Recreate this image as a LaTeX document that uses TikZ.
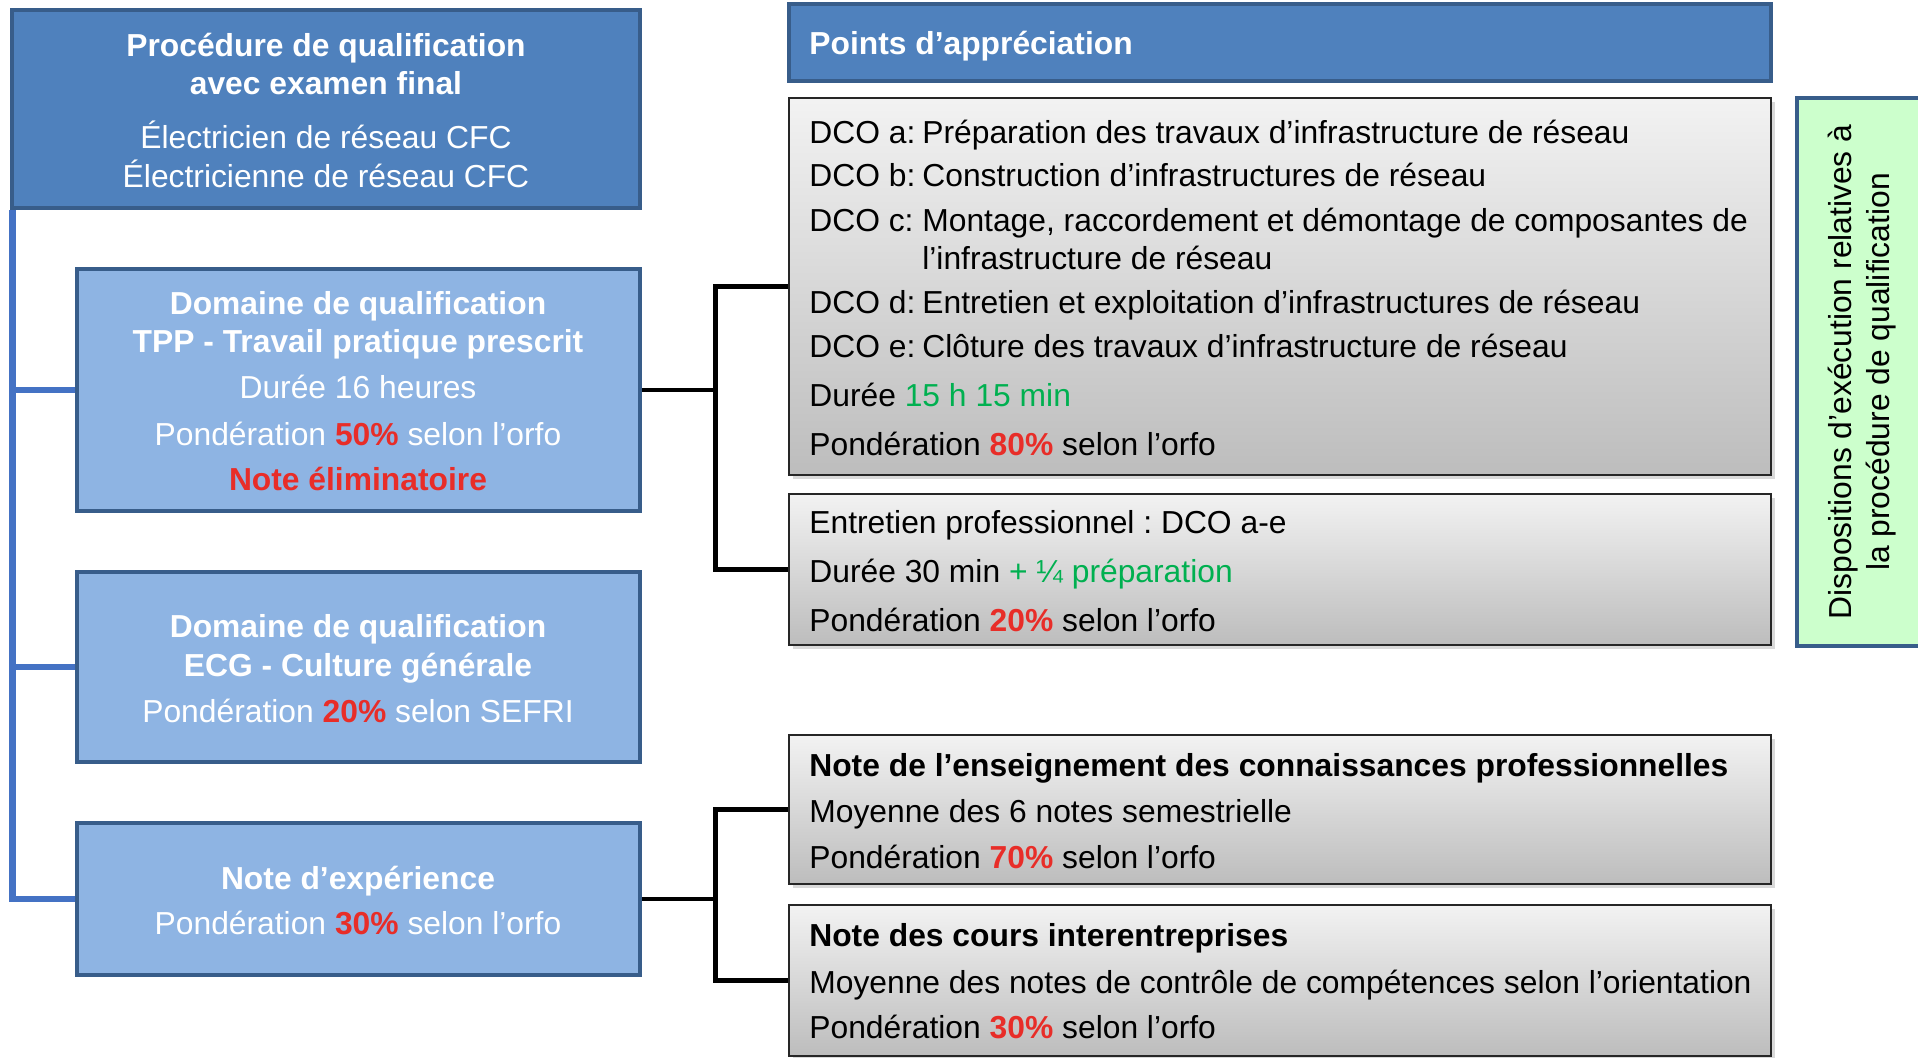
\documentclass[tikz,border=0pt]{standalone}
\usepackage{fontspec}
\setmainfont{Liberation Sans}
\usetikzlibrary{fit,shadows}
\frenchspacing

\definecolor{procblue}{RGB}{79,129,189}
\definecolor{edgeblue}{RGB}{56,93,138}
\definecolor{lightblue}{RGB}{142,180,227}
\definecolor{linkblue}{RGB}{68,114,196}
\definecolor{notered}{RGB}{232,45,40}
\definecolor{timegreen}{RGB}{0,176,80}
\definecolor{dispgreen}{RGB}{204,255,204}

\newcommand{\bodysize}{\fontsize{18.1}{21.5}\selectfont}
\newcommand{\rouge}[1]{\textcolor{notered}{\textbf{#1}}}

\tikzset{
  mainbox/.style={draw=edgeblue, line width=2.8pt, fill=procblue, inner sep=0pt},
  domainbox/.style={draw=edgeblue, line width=2.8pt, fill=lightblue, inner sep=0pt},
  dispbox/.style={draw=edgeblue, line width=2.8pt, fill=dispgreen, inner sep=0pt},
  pointbox/.style={draw=black!85, line width=1.5pt, top color=gray!10, bottom color=gray!52,
    inner sep=0pt, drop shadow={shadow xshift=2pt, shadow yshift=-2pt, opacity=.3}},
  whitetxt/.style={text=white, font=\bodysize, anchor=base, inner sep=0pt},
  darktxt/.style={text=black, font=\bodysize, anchor=base west, inner sep=0pt},
  bluelink/.style={draw=linkblue, line width=3.6pt},
  blacklink/.style={draw=black, line width=2.8pt},
}

\begin{document}
\begin{tikzpicture}[x=0.02cm, y=-0.02cm]
\useasboundingbox (0,0) rectangle (1918,1058);

% left column
\node[mainbox, fit={(12,10)(640,208)}] (proc) {};
\node[domainbox, fit={(77,269)(640,511)}] (tpp) {};
\node[domainbox, fit={(77,572)(640,762)}] (ecg) {};
\node[domainbox, fit={(77,823)(640,975)}] (nde) {};

\node[whitetxt, font=\bodysize\bfseries] (proct1) at (326,56) {Procédure de qualification};
\node[whitetxt, font=\bodysize\bfseries] (proct2) at (326,94) {avec examen final};
\node[whitetxt] (proct3) at (326,148) {Électricien de réseau CFC};
\node[whitetxt] (proct4) at (326,187) {Électricienne de réseau CFC};

\node[whitetxt, font=\bodysize\bfseries] (tppt1) at (358,314) {Domaine de qualification};
\node[whitetxt, font=\bodysize\bfseries] (tppt2) at (358,352) {TPP - Travail pratique prescrit};
\node[whitetxt] (tppt3) at (358,398) {Durée 16 heures};
\node[whitetxt] (tppt4) at (358,445) {Pondération \rouge{50\%} selon l’orfo};
\node[whitetxt, text=notered, font=\bodysize\bfseries] (tppt5) at (358,490) {Note éliminatoire};

\node[whitetxt, font=\bodysize\bfseries] (ecgt1) at (358,637) {Domaine de qualification};
\node[whitetxt, font=\bodysize\bfseries] (ecgt2) at (358,676) {ECG - Culture générale};
\node[whitetxt] (ecgt3) at (358,722) {Pondération \rouge{20\%} selon SEFRI};

\node[whitetxt, font=\bodysize\bfseries] (ndet1) at (358,889) {Note d’expérience};
\node[whitetxt] (ndet2) at (358,934) {Pondération \rouge{30\%} selon l’orfo};

% right column
\node[mainbox, fit={(789,4)(1771,81)}] (hdr) {};
\node[whitetxt, anchor=base west, font=\bodysize\bfseries] (hdrt) at (809,54) {Points d’appréciation};

\node[pointbox, fit={(789,98)(1771,475)}] (dco) {};
\node[pointbox, fit={(789,494)(1771,645)}] (entr) {};
\node[pointbox, fit={(789,735)(1771,884)}] (nens) {};
\node[pointbox, fit={(789,905)(1771,1056)}] (ncie) {};

\node[darktxt] (dcoa) at (809,143) {DCO a:};
\node[darktxt] (dcob) at (809,186) {DCO b:};
\node[darktxt] (dcoc) at (809,231) {DCO c:};
\node[darktxt] (dcod) at (809,313) {DCO d:};
\node[darktxt] (dcoe) at (809,357) {DCO e:};
\node[darktxt] (dcoat) at (922,143) {Préparation des travaux d’infrastructure de réseau};
\node[darktxt] (dcobt) at (922,186) {Construction d’infrastructures de réseau};
\node[darktxt] (dcoct) at (922,231) {Montage, raccordement et démontage de composantes de};
\node[darktxt] (dcoct2) at (922,269) {l’infrastructure de réseau};
\node[darktxt] (dcodt) at (922,313) {Entretien et exploitation d’infrastructures de réseau};
\node[darktxt] (dcoet) at (922,357) {Clôture des travaux d’infrastructure de réseau};
\node[darktxt] (dcodur) at (809,406) {Durée \textcolor{timegreen}{15 h 15 min}};
\node[darktxt] (dcopond) at (809,455) {Pondération \rouge{80\%} selon l’orfo};

\node[darktxt] (entrt1) at (809,533) {Entretien professionnel : DCO a-e};
\node[darktxt] (entrt2) at (809,582) {Durée 30 min \textcolor{timegreen}{+ ¼ préparation}};
\node[darktxt] (entrt3) at (809,631) {Pondération \rouge{20\%} selon l’orfo};

\node[darktxt, font=\bodysize\bfseries] (nenst1) at (809,776) {Note de l’enseignement des connaissances professionnelles};
\node[darktxt] (nenst2) at (809,822) {Moyenne des 6 notes semestrielle};
\node[darktxt] (nenst3) at (809,868) {Pondération \rouge{70\%} selon l’orfo};

\node[darktxt, font=\bodysize\bfseries] (ncit1) at (809,946) {Note des cours interentreprises};
\node[darktxt] (ncit2) at (809,993) {Moyenne des notes de contrôle de compétences selon l’orientation};
\node[darktxt] (ncit3) at (809,1038) {Pondération \rouge{30\%} selon l’orfo};

\node[dispbox, fit={(1797,98)(1935,646)}] (disp) {};
\node[font=\bodysize, align=center, rotate=90, inner sep=0pt] (dispt) at (1862,372)
  {Dispositions d’exécution relatives à\\la procédure de qualification};

% connectors
\draw[bluelink] ([xshift=0.06cm]proc.south west) |- (nde.west);
\draw[bluelink] ([xshift=0.06cm]proc.south west |- tpp.west) -- (tpp.west);
\draw[bluelink] ([xshift=0.06cm]proc.south west |- ecg.west) -- (ecg.west);

\draw[blacklink] (tpp.east) -- ++(73,0) coordinate (jtpp);
\draw[blacklink] (dco.west) -| (jtpp) |- (entr.west);
\draw[blacklink] (nde.east) -- ++(73,0) coordinate (jnde);
\draw[blacklink] (nens.west) -| (jnde) |- (ncie.west);
\end{tikzpicture}
\end{document}
